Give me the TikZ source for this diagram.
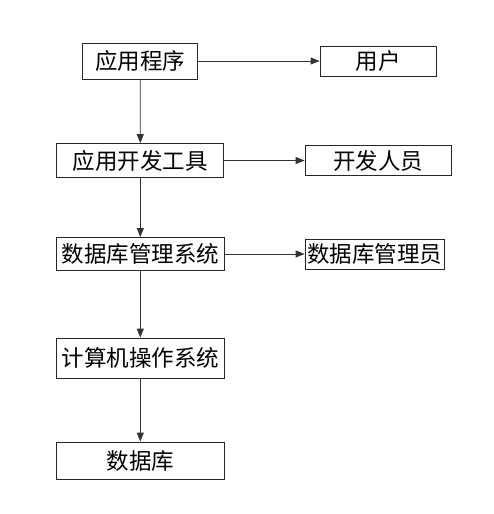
\documentclass[tikz,border=0pt]{standalone}
\usepackage{fontspec}
\setmainfont{Noto Sans CJK SC}
\usetikzlibrary{arrows.meta}
\begin{document}
\begin{tikzpicture}[x=1pt,y=1pt,
  box/.style={draw=black!85,line width=0.8pt,inner sep=0pt,font=\fontsize{22.5}{22.5}\selectfont},
  arr/.style={draw=black!80,line width=0.8pt,-{Triangle[length=9pt,width=7pt]}}]
\useasboundingbox[fill=white] (0,0) rectangle (493,-514);
\node[box,minimum width=115,minimum height=36] (app) at (140.2,-61) {应用程序};
\node[box,minimum width=116,minimum height=30] (user) at (378,-61) {用户};
\node[box,minimum width=167,minimum height=34] (devtool) at (140.3,-160.5) {应用开发工具};
\node[box,minimum width=146,minimum height=30] (dev) at (378,-160.5) {开发人员};
\node[box,minimum width=168,minimum height=33] (dbms) at (140.3,-254) {数据库管理系统};
\node[box,minimum width=139,minimum height=30] (dba) at (374.5,-254) {数据库管理员};
\node[box,minimum width=168,minimum height=40] (os) at (140.3,-358) {计算机操作系统};
\node[box,minimum width=168,minimum height=37] (db) at (140.3,-460.5) {数据库};
\draw[arr] (app.east) -- (user.west);
\draw[arr] (devtool.east) -- (dev.west);
\draw[arr] (dbms.east) -- (dba.west);
\draw[arr] (app.south) -- (devtool.north);
\draw[arr] (devtool.south) -- (dbms.north);
\draw[arr] (dbms.south) -- (os.north);
\draw[arr] (os.south) -- (db.north);
\end{tikzpicture}
\end{document}
